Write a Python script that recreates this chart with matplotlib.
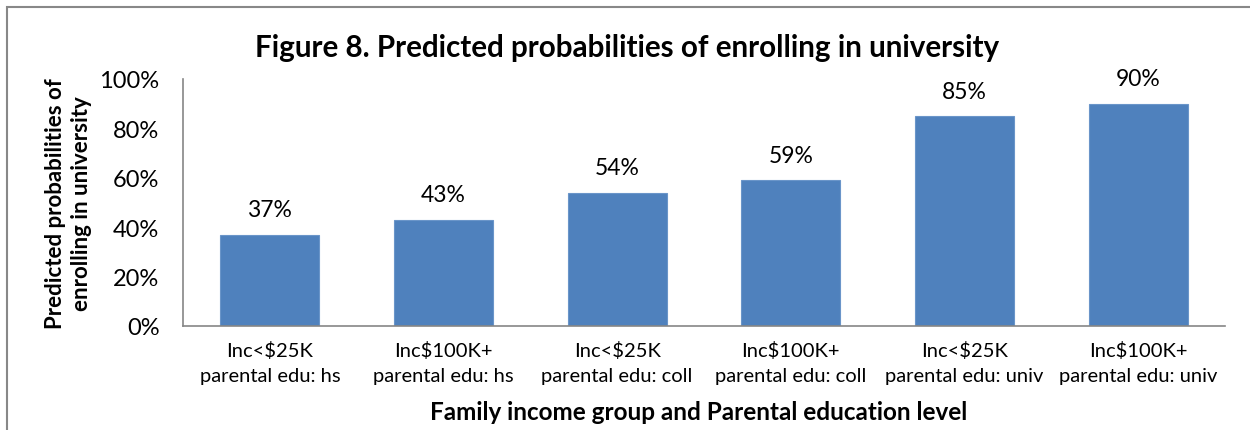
import matplotlib
matplotlib.use("Agg")
import matplotlib.pyplot as plt
from matplotlib.patches import Rectangle

categories = [
    "Inc<$25K\nparental edu: hs",
    "Inc$100K+\nparental edu: hs",
    "Inc<$25K\nparental edu: coll",
    "Inc$100K+\nparental edu: coll",
    "Inc<$25K\nparental edu: univ",
    "Inc$100K+\nparental edu: univ",
]
probabilities = [37, 43, 54, 59, 85, 90]
y_ticks = [0, 20, 40, 60, 80, 100]

plt.rcParams['font.family'] = ['Lato', 'DejaVu Sans']

fig = plt.figure(figsize=(12.5, 4.31), dpi=100)
ax = fig.add_axes([0.1464, 0.2413, 0.8336, 0.5731])

x = range(len(categories))
bars = ax.bar(x, probabilities, width=0.57, color='#4F81BD', edgecolor='#6A95C9', linewidth=0.8)
for b, v in zip(bars, probabilities):
    ax.text(b.get_x() + b.get_width() / 2, v + 7.5, str(v) + '%', ha='center', va='baseline', fontsize=16.5)

ax.set_xlim(-0.5, len(categories) - 0.5)
ax.set_ylim(0, 100)
ax.set_yticks(y_ticks)
ax.set_yticklabels([str(t) + '%' for t in y_ticks], fontsize=17)
ax.set_xticks(list(x))
ax.set_xticklabels(categories, fontsize=14.5, linespacing=1.55)
ax.tick_params(axis='y', length=0, pad=17)
ax.tick_params(axis='x', length=0, pad=11)

for s in ['top', 'right']:
    ax.spines[s].set_visible(False)
for s in ['left', 'bottom']:
    ax.spines[s].set_color('#868686')
    ax.spines[s].set_linewidth(1.2)

ax.set_ylabel('Predicted probabilities of\nenrolling in university', fontsize=16,
              fontweight='bold', linespacing=1.3, labelpad=5)
fig.text(0.5016, 0.888, 'Figure 8. Predicted probabilities of enrolling in university',
         ha='center', va='center', fontsize=21.3, fontweight='bold')
fig.text(0.559, 0.042, 'Family income group and Parental education level',
         ha='center', va='center', fontsize=17.5, fontweight='bold')

# outer chart frame
fig.patches.append(Rectangle((7 / 1250, -0.1), 1.2, 1.1 - 8 / 431, transform=fig.transFigure,
                             fill=False, edgecolor='#888888', linewidth=1.5))

fig.savefig('out.png', dpi=100)
